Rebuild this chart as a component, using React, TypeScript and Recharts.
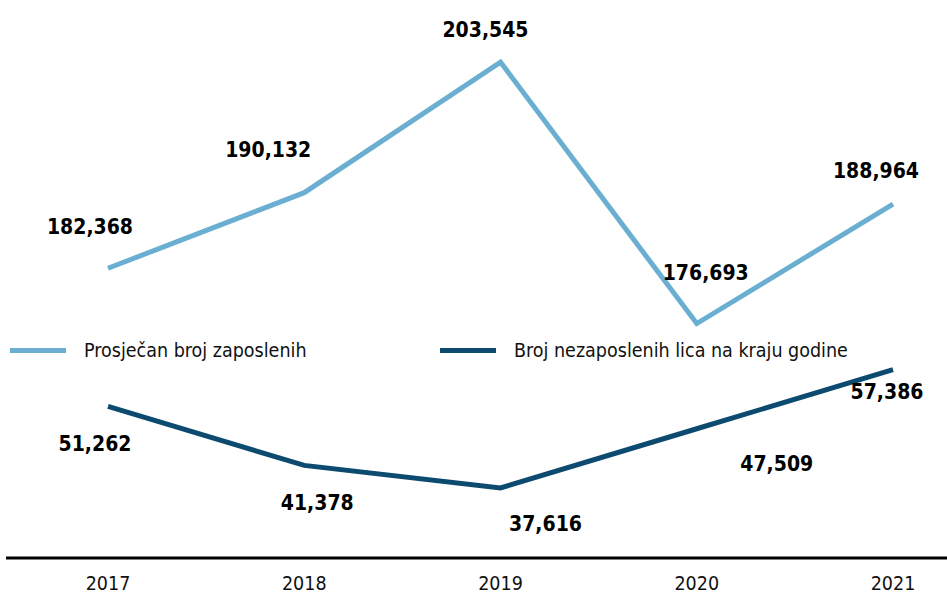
import React from 'react'
import { LineChart, Line, XAxis, YAxis, LabelList } from 'recharts'

// Data
const years = ['2017', '2018', '2019', '2020', '2021']
const employed = [182368, 190132, 203545, 176693, 188964]
const unemployed = [51262, 41378, 37616, 47509, 57386]

const SERIES_NAMES = ['Prosječan broj zaposlenih', 'Broj nezaposlenih lica na kraju godine']
const COLORS = ['#6aafd1', '#0d4a70']
const FONT = '"DejaVu Sans Condensed", "DejaVu Sans", sans-serif'

// label offsets from each point (dx, dy to label center)
const topOffsets = [[-18, -41], [-36, -43], [-15, -32], [9, -51], [-17, -33]]
const bottomOffsets = [[-13, 38], [13, 38], [45, 36], [80, 35], [-6, 22]]

const data = years.map((year, i) => ({ year, employed: employed[i], unemployed: unemployed[i] }))

const makeLabel = (offsets: number[][]) => (props: any) => {
    const { x, y, value, index } = props
    const [dx, dy] = offsets[index]
    return (
        <text
            x={x + dx}
            y={y + dy}
            textAnchor="middle"
            dominantBaseline="central"
            fontFamily={FONT}
            fontWeight="bold"
            fontSize={21}
            style={{ fontStretch: 'condensed' }}
            fill="#000"
        >
            {Number(value).toLocaleString('en-US')}
        </text>
    )
}

// legend drawn as an overlay in the middle of the chart
function ChartLegend() {
    return (
        <div style={{ position: 'absolute', left: 0, top: 339, width: 947, height: 30, fontFamily: FONT, fontStretch: 'condensed', fontSize: 19.5, color: '#111' }}>
            {SERIES_NAMES.map((name, i) => (
                <div key={name} style={{ position: 'absolute', left: i === 0 ? 10 : 440, top: 0, display: 'flex', alignItems: 'center', whiteSpace: 'nowrap' }}>
                    <span style={{ display: 'inline-block', width: 56, height: 5, background: COLORS[i], marginRight: 18 }} />
                    <span>{name}</span>
                </div>
            ))}
        </div>
    )
}

export default function App() {
    return (
        <div style={{ position: 'absolute', left: 0, top: 0, width: 947, height: 603, background: '#fff', overflow: 'hidden' }}>
            <LineChart width={947} height={603} data={data} margin={{ top: 0, right: 0, left: 6, bottom: 0 }}>
                <XAxis
                    dataKey="year"
                    height={45}
                    axisLine={{ stroke: '#000', strokeWidth: 3 }}
                    tickLine={false}
                    tickSize={0}
                    tickMargin={18}
                    padding={{ left: 102, right: 54 }}
                    tick={{ fontFamily: FONT, fontSize: 19.5, fill: '#111', style: { fontStretch: 'condensed' } }}
                    interval={0}
                />
                <YAxis yAxisId="top" hide domain={[152609, 209925]} />
                <YAxis yAxisId="bottom" hide domain={[25896, 119194]} />
                <Line
                    yAxisId="top"
                    type="linear"
                    dataKey="employed"
                    stroke={COLORS[0]}
                    strokeWidth={5}
                    dot={false}
                    isAnimationActive={false}
                >
                    <LabelList dataKey="employed" content={makeLabel(topOffsets)} />
                </Line>
                <Line
                    yAxisId="bottom"
                    type="linear"
                    dataKey="unemployed"
                    stroke={COLORS[1]}
                    strokeWidth={5}
                    dot={false}
                    isAnimationActive={false}
                >
                    <LabelList dataKey="unemployed" content={makeLabel(bottomOffsets)} />
                </Line>
            </LineChart>
            <ChartLegend />
        </div>
    )
}
